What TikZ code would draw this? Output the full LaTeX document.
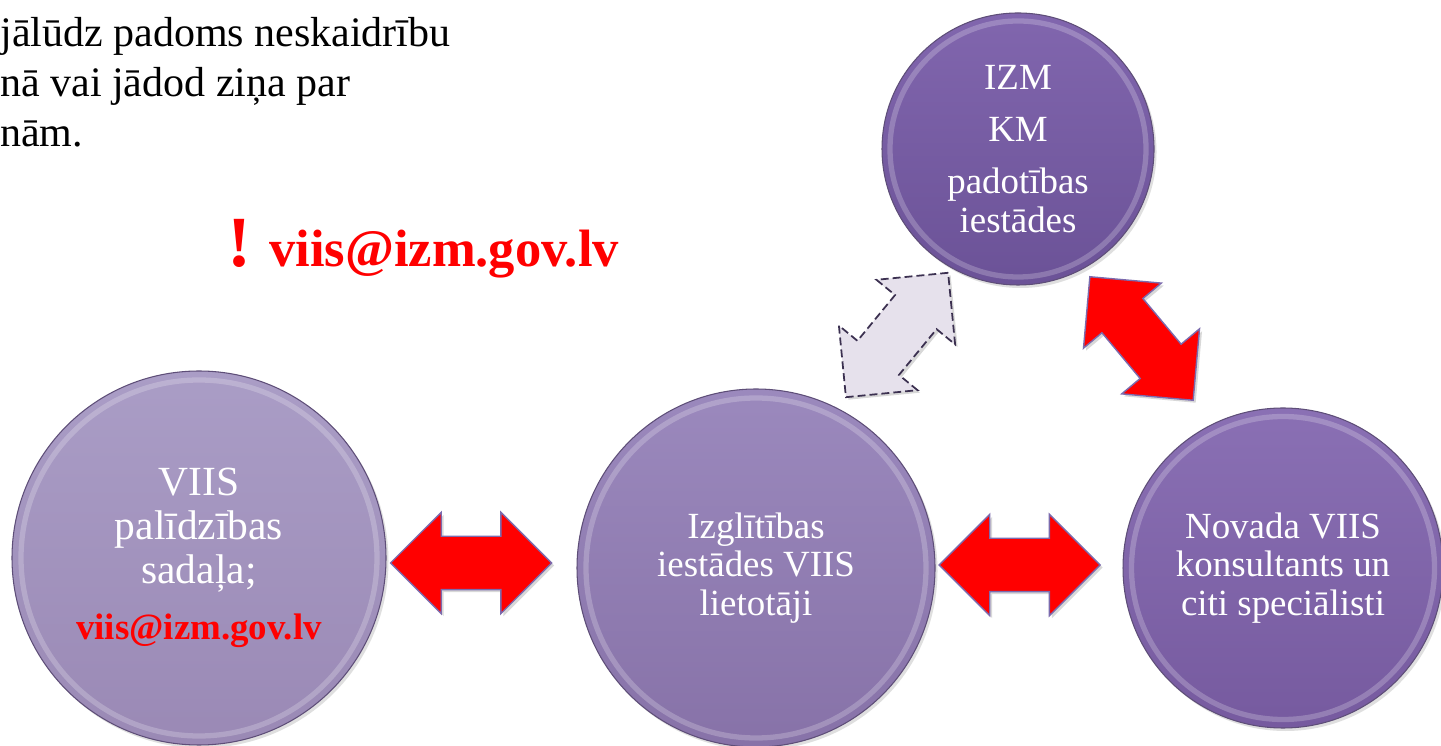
\documentclass[tikz,border=0pt]{standalone}
\usepackage{fontspec}
\setmainfont{Liberation Serif}
\newfontfamily\introfont{Liberation Serif}
\usetikzlibrary{shapes.arrows,shadows}

\definecolor{rimline}{HTML}{5E4E78}
\definecolor{arrowline}{HTML}{7B6BAE}
\definecolor{greyfill}{HTML}{E6E1EC}
\definecolor{greyline}{HTML}{3B3050}
\definecolor{helptop}{HTML}{AA9DC6}
\definecolor{helpbot}{HTML}{9A89B5}
\definecolor{userstop}{HTML}{9B89BD}
\definecolor{usersbot}{HTML}{8772A8}
\definecolor{izmtop}{HTML}{8166AE}
\definecolor{izmbot}{HTML}{6B5297}
\definecolor{novtop}{HTML}{8A70B4}
\definecolor{novbot}{HTML}{765A9F}

\tikzset{
  bubble/.style={circle,draw=rimline,line width=0.6pt,inner sep=0pt,text=white,align=center,
    font=\rmfamily\fontsize{21}{22}\selectfont,
    drop shadow={opacity=0.25,shadow xshift=0.05cm,shadow yshift=-0.06cm}},
  rim/.style={line width=3pt,white,opacity=0.22},
  link/.style={double arrow,double arrow head extend=0.48cm,minimum height=3.22cm,
    minimum width=2cm,inner xsep=0pt,inner ysep=0.52cm,
    drop shadow={opacity=0.3,shadow xshift=0.05cm,shadow yshift=-0.05cm}},
  redlink/.style={link,fill=red,draw=arrowline,line width=0.8pt},
  greylink/.style={link,fill=greyfill,draw=greyline,dash pattern=on 4.5pt off 2.3pt,line width=1pt},
  intro/.style={anchor=base west,inner sep=0pt,text=black,font=\introfont\fontsize{23.9}{28}\selectfont},
}

\begin{document}
\begin{tikzpicture}
\useasboundingbox (0,0) rectangle (28.82,14.9);
\fill[white] (0,0) rectangle (28.82,14.9);

% text cut off at the left
\node[intro] (l1) at (0,13.96) {jālūdz padoms neskaidrību};
\node[intro] (l2) at (0,12.96) {nā vai jādod ziņa par};
\node[intro] (l3) at (0,11.96) {nām.};
\node[anchor=base west,inner sep=0pt,text=red,font=\rmfamily\bfseries\fontsize{29.9}{32}\selectfont] (mail) at (4.55,9.56)
  {{\fontsize{41}{41}\selectfont!} viis@izm.gov.lv};

% circles
\node[bubble,minimum size=7.48cm,top color=helptop,bottom color=helpbot,font=\rmfamily\fontsize{23.6}{25}\selectfont] (help) at (3.98,3.74)
  {VIIS\\palīdzības\\sadaļa;\\[7pt]{\fontsize{21}{21}\selectfont\bfseries\color{red}viis@izm.gov.lv}};
\node[bubble,minimum size=7.16cm,top color=userstop,bottom color=usersbot] (users) at (15.12,3.54)
  {Izglītības\\iestādes VIIS\\lietotāji};
\node[bubble,minimum size=5.44cm,top color=izmtop,bottom color=izmbot] (izm) at (20.36,11.92)
  {IZM\\[7.5pt]KM\\[7.5pt]padotības\\iestādes};
\node[bubble,minimum size=6.4cm,top color=novtop,bottom color=novbot] (novads) at (25.66,3.54)
  {Novada VIIS\\konsultants un\\citi speciālisti};

\draw[rim] (help.center) circle (3.56);
\draw[rim] (users.center) circle (3.40);
\draw[rim] (izm.center) circle (2.56);
\draw[rim] (novads.center) circle (3.03);

% double arrows
\node[redlink] (a1) at (9.42,3.64) {};
\node[redlink] (a2) at (20.39,3.60) {};
\node[greylink,rotate=50.6] (a3) at (17.94,8.20) {};
\node[redlink,rotate=-50.1] (a4) at (22.83,8.13) {};
\end{tikzpicture}
\end{document}
